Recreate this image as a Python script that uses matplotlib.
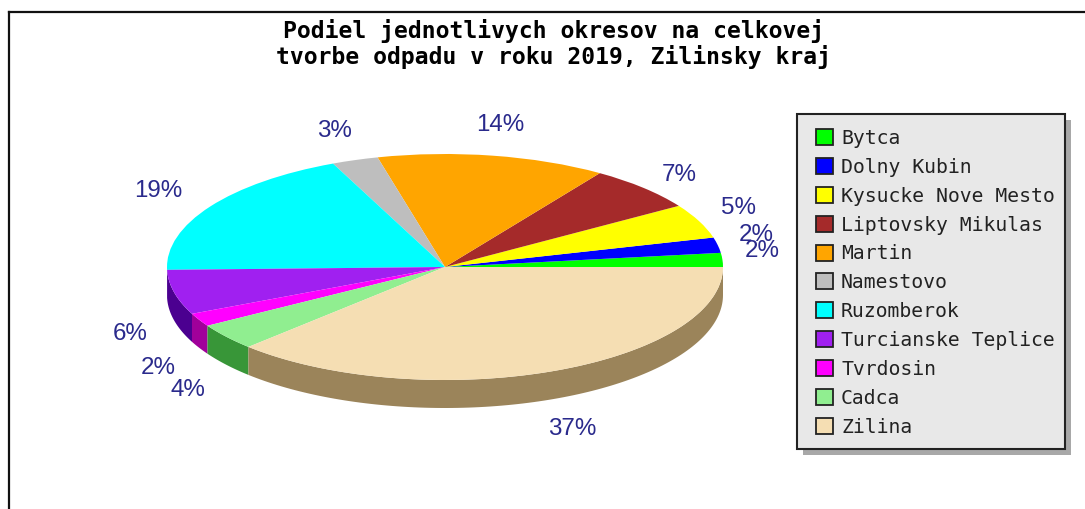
import numpy as np
import matplotlib
matplotlib.use("Agg")
import matplotlib.pyplot as plt
from matplotlib.patches import Patch, Rectangle
from matplotlib.lines import Line2D

# Data
districts = ["Bytca", "Dolny Kubin", "Kysucke Nove Mesto", "Liptovsky Mikulas",
             "Martin", "Namestovo", "Ruzomberok", "Turcianske Teplice",
             "Tvrdosin", "Cadca", "Zilina"]
shares = [2.0, 2.2, 4.9, 6.5, 13.3, 2.7, 18.8, 6.4, 1.9, 3.8, 37.5]
share_labels = ["2%", "2%", "5%", "7%", "14%", "3%", "19%", "6%", "2%", "4%", "37%"]
top_colors = ["#00ff00", "#0000ff", "#ffff00", "#a52a2a", "#ffa500", "#bebebe",
              "#00ffff", "#a020f0", "#ff00ff", "#90ee90", "#f5deb3"]
side_colors = ["#008b00", "#00008b", "#8b8b00", "#6b1b1b", "#a56b00", "#7b7b7b",
               "#008b8b", "#4b0090", "#a0009a", "#389638", "#9b845a"]
title = "Podiel jednotlivych okresov na celkovej\ntvorbe odpadu v roku 2019, Zilinsky kraj"

# Layout (pixels from the top-left corner)
W, H = 1085, 509
CX, CY, RX, RY, DEPTH = 445, 267, 278, 113, 28
label_x = [762, 756, 739, 679, 500, 334, 158, 130, 158, 188, 572]
label_y = [251, 235, 208, 175, 125, 131, 191, 334, 368, 390, 429]


def ux(px):
    return (np.asarray(px, float) - CX) / RX


def uy(py):
    return (CY - np.asarray(py, float)) / RY


fig = plt.figure(figsize=(W / 100, H / 100), dpi=100, facecolor="white")
ax = fig.add_axes([0, 0, 1, 1])

wedges, _ = ax.pie(shares, startangle=0, counterclock=True, colors=top_colors,
                   radius=1, center=(0, 0), normalize=True,
                   wedgeprops=dict(linewidth=0, zorder=3))
ax.set_aspect("auto")
ax.set_xlim(ux(0), ux(W))
ax.set_ylim(uy(H), uy(0))
ax.set_axis_off()
depth = DEPTH / RY

# Side walls of the lower half
edges = np.concatenate([[0], np.cumsum(shares)]) / np.sum(shares) * 360
for a0, a1, c in zip(edges[:-1], edges[1:], side_colors):
    lo, hi = max(a0, 180), min(a1, 360)
    if hi <= lo:
        continue
    th = np.radians(np.linspace(lo, hi, 120))
    x, y = np.cos(th), np.sin(th)
    ax.fill(np.r_[x, x[::-1]], np.r_[y, y[::-1] - depth], color=c, lw=0, zorder=2)

# Percentage labels around the pie
for lx, ly, s in zip(label_x, label_y, share_labels):
    ax.text(ux(lx), uy(ly), s, ha="center", va="center", color="#2a2a8c",
            family="Liberation Sans", fontsize=17.4, zorder=5)

# Title
ax.text(ux(554), uy(44), title, ha="center", va="center",
        family="DejaVu Sans Mono", weight="bold", fontsize=16.6, linespacing=1.06,
        color="black", zorder=5)

# Outer frame (top and left edges)
for xs, ys in [((9, W), (12, 12)), ((9, 9), (12, H))]:
    ax.add_line(Line2D(ux(xs), uy(ys), color="#111111", lw=1.6, zorder=6))

# Legend box with its shadow, then the entries
ax.add_patch(Rectangle((ux(803), uy(455)), 268 / RX, 335 / RY, facecolor="#a8a8a8",
                       edgecolor="none", zorder=6))
ax.add_patch(Rectangle((ux(797), uy(449)), 268 / RX, 335 / RY, facecolor="#e8e8e8",
                       edgecolor="#222222", linewidth=1.5, zorder=6.5))
handles = [Patch(facecolor=c, edgecolor="#222222", linewidth=1.3) for c in top_colors]
leg = ax.legend(handles, districts, loc="upper left",
                bbox_to_anchor=(816 / W, 1 - 129 / H), bbox_transform=fig.transFigure,
                borderaxespad=0, borderpad=0, frameon=False,
                prop=dict(family="DejaVu Sans Mono", size=14.2),
                handlelength=0.87, handleheight=0.87, handletextpad=0.4,
                labelspacing=0.5, labelcolor="#222222")
leg.set_zorder(7)

fig.savefig("out.png", dpi=100, facecolor="white")
